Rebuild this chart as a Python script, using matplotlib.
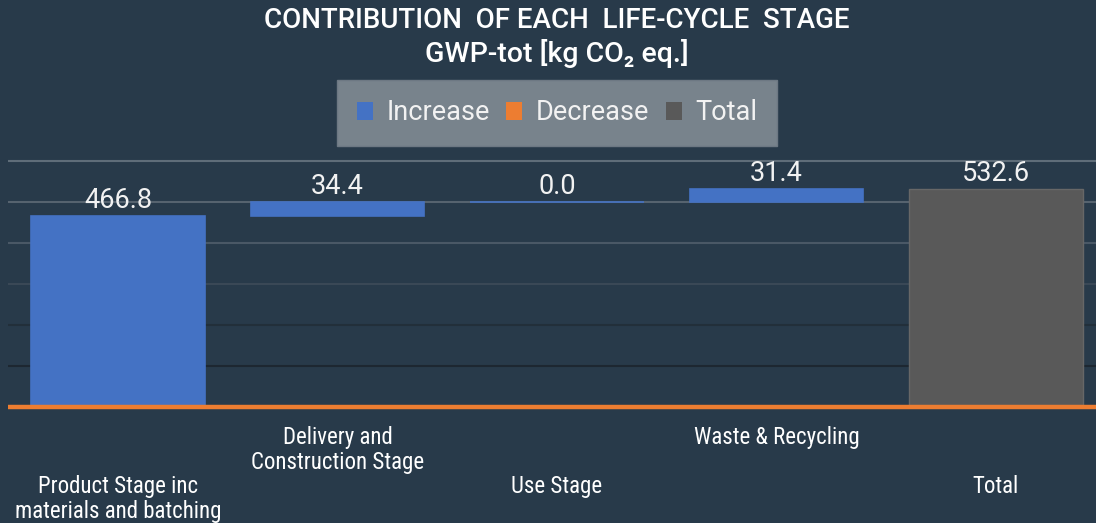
import numpy as np
import matplotlib
matplotlib.use('Agg')
import matplotlib.pyplot as plt
from matplotlib.patches import Patch
from matplotlib import font_manager as fm

stages = ['Product Stage inc\nmaterials and batching', 'Delivery and\nConstruction Stage',
          'Use Stage', 'Waste & Recycling', 'Total']
changes = [466.8, 34.4, 0.0, 31.4]
total = 532.6
grid_vals = [100, 200, 300, 400, 500, 600]

bg = '#283a4a'
blue = '#4472c4'
orange = '#ed7d31'
grey = '#595959'
roboto = ['Roboto', 'DejaVu Sans']

# look for a condensed face for the category labels
narrow = dict(family=roboto)
for fam in ['Roboto Condensed', 'Liberation Sans Narrow', 'Open Sans Condensed']:
    try:
        fm.findfont(fm.FontProperties(family=fam), fallback_to_default=False)
        narrow = dict(family=[fam, 'DejaVu Sans'])
        break
    except Exception:
        pass
else:
    f = fm.findfont(fm.FontProperties(family='DejaVu Sans', stretch='condensed'))
    if 'Condensed' in f:
        narrow = dict(family=['DejaVu Sans'], stretch='condensed')

fig = plt.figure(figsize=(10.96, 5.23), dpi=100, facecolor=bg)
ax = fig.add_axes([8/1096, 1 - 430/523, 1 - 8/1096, 280/523])
ax.set_facecolor(bg)

x = np.arange(len(stages))
bottoms = np.concatenate([[0], np.cumsum(changes)[:-1]])
w = 0.79

# increases
ax.bar(x[:4], changes, bottom=bottoms, width=w, color=blue, edgecolor=blue, lw=1.2, zorder=3)
# total
ax.bar(x[4], total, width=w, color=grey, edgecolor='#676767', lw=1, zorder=3)

tops = list(bottoms + np.array(changes)) + [total]
labels = [f'{v:.1f}' for v in changes] + [f'{total:.1f}']
for xi, top, lab in zip(x, tops, labels):
    ax.annotate(lab, (xi, top), xytext=(0, 1), textcoords='offset points',
                ha='center', va='bottom', color='#f2f2f2', fontsize=19.5, family=roboto, zorder=5)

# gridlines
grid_cols = ['#1d2731', '#222f3a', '#3a4856', '#4a5866', '#56636f', '#5f6d79']
for gv, gc in zip(grid_vals, grid_cols):
    ax.axhline(gv, color=gc, lw=1.5, zorder=1)
ax.axhline(0, color=orange, lw=3.2, zorder=4)

ax.set_xlim(-0.501, 4.456)
ax.set_ylim(-56, 627)
ax.set_xticks([])
ax.set_yticks([])
for s in ax.spines.values():
    s.set_visible(False)

# staggered category labels
for i, name in enumerate(stages):
    ytop = 426 if i % 2 == 1 else 475
    fig.text((118 + 219.5 * i) / 1096, 1 - ytop/523, name, ha='center', va='top',
             color='white', fontsize=16.5, linespacing=1.1, **narrow)

fig.text(557/1096, 1 - 21/523, 'CONTRIBUTION  OF EACH  LIFE-CYCLE  STAGE', ha='center', va='center',
         color='white', fontsize=20, fontweight='medium', family=roboto)
fig.text(557/1096, 1 - 53/523, 'GWP-tot [kg CO\u2082 eq.]', ha='center', va='center',
         color='white', fontsize=20.5, fontweight='medium', family=roboto)

handles = [Patch(facecolor=blue), Patch(facecolor=orange), Patch(facecolor=grey)]
leg = fig.legend(handles, ['Increase', 'Decrease', 'Total'], loc='center',
                 bbox_to_anchor=(557/1096, 1 - 113/523), ncol=3, frameon=True, fancybox=False,
                 facecolor='#78838c', edgecolor='#6d7883', framealpha=1,
                 prop={'family': roboto, 'size': 19.5}, handlelength=0.6, handleheight=0.6,
                 handletextpad=0.5, columnspacing=0.6, borderpad=0.72)
for t in leg.get_texts():
    t.set_color('#f2f2f2')

fig.savefig('out.png', dpi=100, facecolor=bg)
